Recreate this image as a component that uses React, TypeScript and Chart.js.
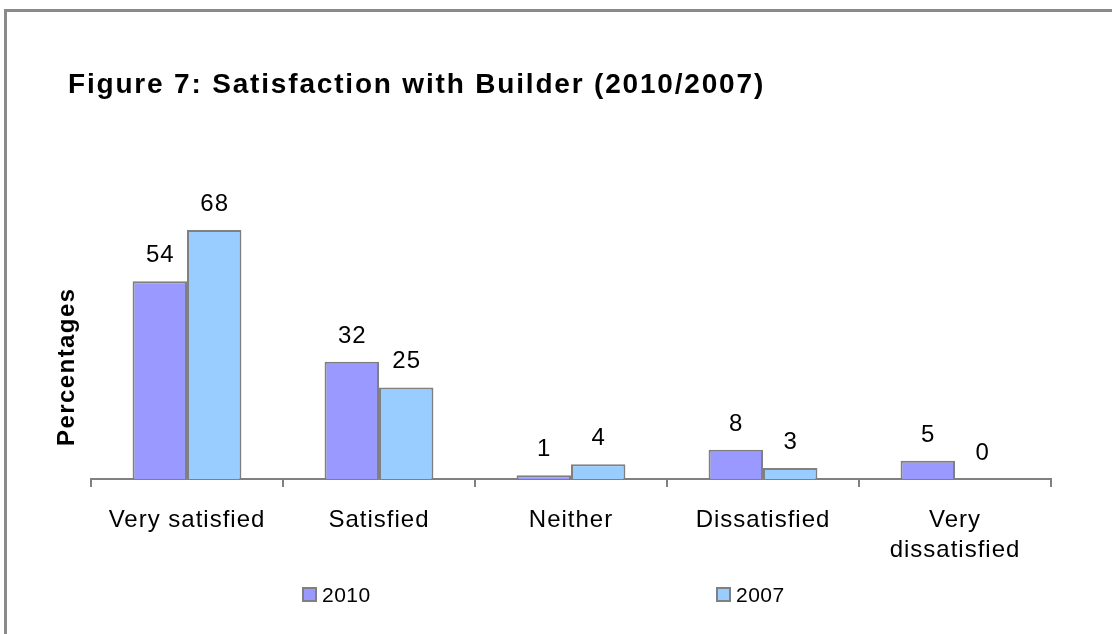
import React, { useEffect, useRef } from "react";
import { Chart, registerables } from "chart.js";

Chart.register(...registerables);

const categories: (string | string[])[] = [
  "Very satisfied",
  "Satisfied",
  "Neither",
  "Dissatisfied",
  ["Very", "dissatisfied"],
];
const values2010 = [54, 32, 1, 8, 5];
const values2007 = [68, 25, 4, 3, 0];
const seriesNames = ["2010", "2007"];
const seriesColors = ["#9999FF", "#99CCFF"];
const titleText = "Figure 7: Satisfaction with Builder (2010/2007)";
const yTitleText = "Percentages";

const FONT = "'Liberation Sans', Arial, sans-serif";
const W = 1112;
const H = 634;

function drawSpaced(ctx: CanvasRenderingContext2D, text: string, x: number, y: number, targetWidth: number) {
  ctx.letterSpacing = "0px";
  const w = ctx.measureText(text).width;
  const sp = (targetWidth - w) / Math.max(1, text.length - 1);
  ctx.letterSpacing = sp.toFixed(2) + "px";
  ctx.fillText(text, x, y);
  ctx.letterSpacing = "0px";
}

const decorPlugin = {
  id: "decor",
  beforeDraw(chart: any) {
    const ctx = chart.ctx as CanvasRenderingContext2D;
    ctx.save();
    ctx.fillStyle = "#ffffff";
    ctx.fillRect(0, 0, W, H);
    ctx.fillStyle = "#8a8a8a";
    ctx.fillRect(4, 9, 3, H);
    ctx.fillRect(4, 9, W, 3);
    ctx.restore();
    ctx.letterSpacing = "1px";
  },
  afterDatasetsDraw(chart: any) {
    const ctx = chart.ctx as CanvasRenderingContext2D;
    ctx.save();
    ctx.font = `24px ${FONT}`;
    ctx.fillStyle = "#000";
    ctx.textAlign = "center";
    ctx.textBaseline = "alphabetic";
    ctx.letterSpacing = "1px";
    chart.data.datasets.forEach((ds: any, i: number) => {
      const meta = chart.getDatasetMeta(i);
      meta.data.forEach((bar: any, j: number) => {
        ctx.fillText(String(ds.data[j]), bar.x + 0.5, bar.y - 19);
      });
    });
    ctx.restore();
  },
  afterDraw(chart: any) {
    const ctx = chart.ctx as CanvasRenderingContext2D;
    ctx.save();
    ctx.fillStyle = "#000";
    // Title
    ctx.font = `bold 28px ${FONT}`;
    ctx.textAlign = "left";
    ctx.textBaseline = "alphabetic";
    drawSpaced(ctx, titleText, 68, 93, 695);
    // Y axis title
    ctx.save();
    ctx.translate(74, 368);
    ctx.rotate(-Math.PI / 2);
    ctx.font = `bold 24px ${FONT}`;
    ctx.textAlign = "left";
    drawSpaced(ctx, yTitleText, -78, 0, 157);
    ctx.restore();
    // Legend
    const legendX = [302, 716];
    ctx.font = `21px ${FONT}`;
    ctx.textAlign = "left";
    ctx.letterSpacing = "0.5px";
    seriesNames.forEach((name, i) => {
      const x = legendX[i];
      ctx.fillStyle = seriesColors[i];
      ctx.fillRect(x, 587, 15, 15);
      ctx.strokeStyle = "#808080";
      ctx.lineWidth = 2;
      ctx.strokeRect(x + 1, 588, 13, 13);
      ctx.fillStyle = "#000";
      ctx.fillText(name, x + 20, 602);
    });
    ctx.restore();
  },
};

export default function App() {
  const canvasRef = useRef<HTMLCanvasElement | null>(null);

  useEffect(() => {
    const canvas = canvasRef.current;
    if (!canvas) return;
    const chart = new Chart(canvas, {
      type: "bar",
      data: {
        labels: categories,
        datasets: [
          {
            label: seriesNames[0],
            data: values2010,
            backgroundColor: seriesColors[0],
            borderColor: "#808080",
            borderWidth: 2,
            borderSkipped: "start",
            categoryPercentage: 0.567,
            barPercentage: 1,
          },
          {
            label: seriesNames[1],
            data: values2007,
            backgroundColor: seriesColors[1],
            borderColor: "#808080",
            borderWidth: 2,
            borderSkipped: "start",
            categoryPercentage: 0.567,
            barPercentage: 1,
          },
        ],
      },
      options: {
        responsive: false,
        maintainAspectRatio: false,
        devicePixelRatio: 1,
        animation: false,
        layout: { padding: { left: 91, right: 61, top: 186, bottom: 0 } },
        plugins: {
          legend: { display: false },
          title: { display: false },
          tooltip: { enabled: false },
        },
        scales: {
          x: {
            offset: true,
            grid: {
              display: true,
              drawOnChartArea: false,
              drawTicks: true,
              tickLength: 8,
              color: "#808080",
              lineWidth: 2,
              offset: true,
            },
            border: { display: true, color: "#808080", width: 2 },
            ticks: {
              color: "#000",
              padding: 18,
              maxRotation: 0,
              autoSkip: false,
              font: { family: FONT, size: 24, lineHeight: 1.25 },
            },
            afterFit: (scale: any) => {
              scale.height = H - 479;
            },
          },
          y: {
            display: false,
            min: 0,
            max: 80,
          },
        },
      },
      plugins: [decorPlugin],
    });
    return () => chart.destroy();
  }, []);

  return (
    <div style={{ position: "fixed", left: 0, top: 0, width: W, height: H, background: "#fff" }}>
      <canvas ref={canvasRef} width={W} height={H} style={{ display: "block", width: W, height: H }} />
    </div>
  );
}
